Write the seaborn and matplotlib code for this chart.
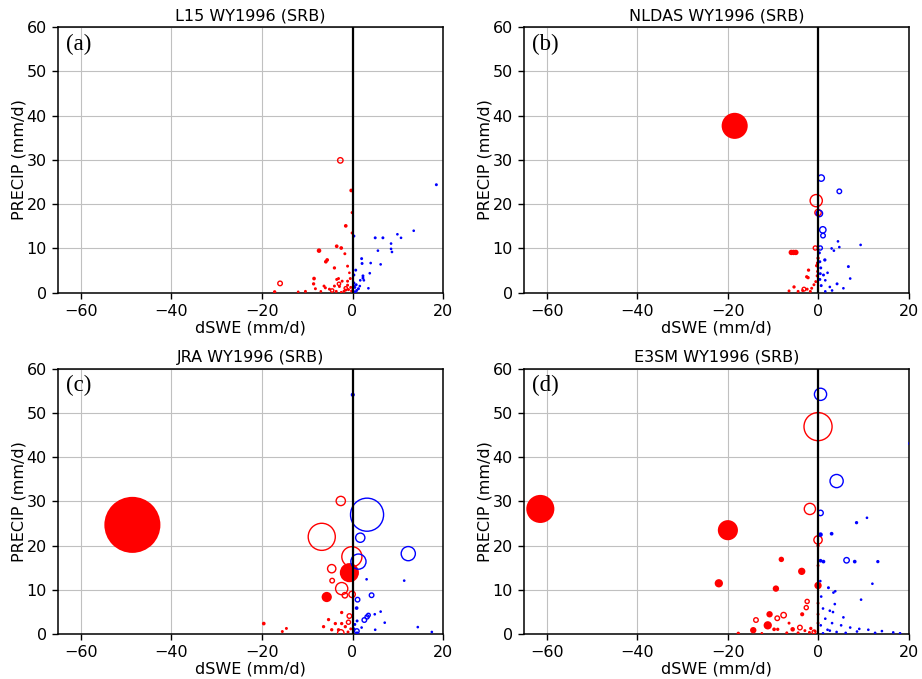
import matplotlib
matplotlib.use("Agg")
import matplotlib.pyplot as plt
import numpy as np
import pandas as pd
import seaborn as sns

# ---- data: dSWE (mm/d), PRECIP (mm/d), marker magnitude, filled flag ----
titles = ["L15 WY1996 (SRB)", "NLDAS WY1996 (SRB)", "JRA WY1996 (SRB)", "E3SM WY1996 (SRB)"]
labels = ["(a)", "(b)", "(c)", "(d)"]

l15_dswe = [-2.7, -16.0, -3.0, -1.5, -4.5,
            -0.3, -0.1, -1.5, -0.1, -3.5, -2.5, -7.4, -5.6, -5.9, -1.7, -4.0, -1.1, -8.5, -8.6,
            -17.2, -10.4, -8.2, -6.0, -5.1, -3.5, -3.1, -0.5, -2.3, -1.1, -2.9, -4.0, -1.1, -3.6,
            -1.9, -1.5, -0.9, -6.3, -0.4, -0.2, -12.0, -7.0, -2.5, -0.7,
            18.5, 13.5, 9.9, 10.7, 5.0, 6.7, 8.5, 5.6, 8.5, 8.7, 2.0, 2.1, 4.0, 6.2, 0.7, 3.8,
            2.3, 2.3, 1.7, 2.5, 0.3, 0.8, 0.5, 1.3, 0.9, 0.2, 1.6, 0.3, 0.3, 0.2, 3.5, 0.6]
l15_precip = [29.9, 2.1, 2.0, 1.0, 0.5,
              23.1, 18.1, 15.1, 13.5, 10.5, 10.1, 9.5, 7.4, 7.0, 8.8, 5.6, 6.0, 3.2, 2.0,
              0.2, 0.3, 0.9, 1.1, 0.8, 3.0, 3.2, 3.2, 2.6, 2.6, 1.4, 1.5, 1.7, 0.3,
              0.3, 0.6, 0.7, 1.5, 1.2, 0.4, 0.2, 0.3, 0.1, 4.5,
              24.4, 14.0, 13.2, 12.4, 12.4, 12.4, 11.1, 9.5, 9.9, 9.2, 7.7, 6.6, 6.7, 6.4, 5.1, 4.4,
              3.8, 3.3, 2.8, 2.8, 2.2, 1.8, 1.2, 0.9, 0.5, 0.3, 1.5, 12.8, 4.0, 1.6, 1.0, 0.1]
l15_mag = [5, 4, 2.5, 2.5, 2.5,
           3, 2, 3, 2, 3, 3, 4, 3, 3, 2, 2.5, 2, 3, 2.5,
           2.5, 2, 2, 2, 2, 2, 2, 2, 2, 2, 2, 2, 2, 2,
           2, 2, 2, 2, 2, 2, 1.5, 1.5, 1.5, 1.5,
           2, 1.5, 1.5, 1.5, 2, 2, 1.5, 1.5, 1.5, 1.5, 2, 2, 1.5, 1.5, 2, 1.5,
           2, 2, 1.5, 1.5, 2, 2, 2, 2, 2, 2, 1.5, 2, 2, 2, 1.5, 2]
l15_fill = [0, 0, 0, 0, 0] + [1] * 38 + [1] * 32

nldas_dswe = [-18.5, -6.0, -5.0, -5.5, -0.1, -0.2, -0.4, -2.2, -2.6, -2.3, -5.4, -4.5, -3.5,
              -2.5, -1.5, -1.0, -0.6, -0.3, -0.2, -6.5, -1.8,
              -0.5, -0.1, -0.7, -3.2,
              0.6, 4.6, 0.2, 0.95, 1.0, 0.4,
              1.4, 6.6, 4.1, 0.2, 0.3, 0.5, 0.4, 0.3, 0.6, 1.1, 1.5, 2.5,
              4.3, 4.6, 9.3, 2.9, 3.4, 7.0, 3.0, 1.5, 2.0, 5.5]
nldas_precip = [37.7, 9.1, 9.1, 9.1, 7.8, 6.7, 6.1, 5.1, 3.6, 3.4, 1.3, 0.3, 0.5,
                0.8, 1.0, 1.8, 2.5, 3.8, 4.8, 0.4, 0.3,
                20.8, 18.1, 10.1, 0.8,
                25.9, 22.9, 17.9, 14.2, 12.9, 10.1,
                7.4, 5.9, 2.0, 9.0, 7.0, 5.6, 4.3, 3.0, 1.6, 4.0, 2.8, 1.3,
                11.6, 10.3, 10.8, 10.0, 9.5, 3.2, 0.5, 0.3, 4.5, 1.0]
nldas_mag = [26, 5, 5, 5, 2.5, 2.5, 2.5, 2.5, 2.5, 2.5, 2.5, 2, 2,
             2, 2, 2, 2, 2, 2, 2, 2,
             12, 6, 3.5, 3,
             6, 4, 6, 6, 4, 3.5,
             2.5, 2, 2, 2, 2, 2, 2, 2, 2, 2, 1.5, 1.5,
             1.5, 1.5, 1.5, 1.5, 1.5, 1.5, 1.5, 1.5, 1.5, 1.5]
nldas_fill = [1] * 21 + [0] * 4 + [0] * 6 + [1] * 12 + [1] * 10

jra_dswe = [-48.6, -0.7, -5.7, -19.6, -14.6, -15.5, -2.4, -5.3, -3.8, -2.4, -6.4, -4.6, -3.1, -1.6,
            -1.0, -0.4,
            -2.6, -6.8, -0.15, -4.6, -4.5, -2.4, -1.7, -0.1, -0.9, -2.6, -0.7,
            3.2, 1.7, 12.3, 1.3, 1.1, 4.2, 2.6, 3.2, 3.5, 0.95,
            0.05, 0.9, 3.1, 11.4, 0.5, 1.0, 0.3, 4.9, 6.2, 7.1, 14.4, 17.5, 1.0, 2.0, 5.0]
jra_precip = [24.7, 13.9, 8.4, 2.4, 1.3, 0.6, 4.9, 3.3, 2.4, 2.4, 1.7, 1.0, 1.0, 1.7,
              0.5, 1.2,
              30.1, 22.0, 17.5, 14.8, 12.1, 10.3, 8.8, 9.0, 2.7, 0.3, 4.1,
              27.0, 21.8, 18.2, 16.4, 7.8, 8.8, 3.2, 3.9, 4.3, 0.7,
              54.1, 5.9, 12.4, 12.1, 2.2, 3.0, 1.2, 4.5, 5.1, 2.6, 1.6, 0.5, 0.3, 1.5, 1.0]
jra_mag = [56, 19, 10, 3, 2, 2, 2.5, 2.5, 2.5, 2.5, 2.5, 2.5, 2.5, 2.5,
           2, 2,
           9, 27, 20, 8, 4, 12, 5, 6, 3.5, 6, 4,
           33, 9, 14, 15, 4, 4, 4, 3.5, 3, 4,
           3.5, 3, 1.5, 1.5, 2, 2, 2, 1.5, 1.5, 1.5, 1.5, 1.5, 2, 1.5, 1.5]
jra_fill = [1] * 16 + [0] * 11 + [0] * 10 + [1] * 15

e3sm_dswe = [-61.4, -20.0, -22.0, -8.2, -3.7, -0.1, -9.4, -10.8, -11.2, -14.4, -17.7, -3.6, -5.7,
             -9.8, -9.0, -1.7, -0.1, -0.1, -0.1, -0.1, -0.1, -2.0, -4.5, -7.0, -3.0, -0.8, -12.5,
             -6.5,
             -0.1, -1.9, -0.1, -13.8, -9.1, -7.7, -2.7, -2.5, -4.1, -1.0,
             0.45, 4.0, 0.45, 6.2,
             20.2, 0.45, 2.9, 8.4, 10.7, 8.0, 13.1, 0.45, 1.1, 11.9, 2.2, 3.7, 3.3, 9.4, 3.6, 1.0,
             2.5, 3.2, 1.5, 3.0, 5.0, 7.0, 9.0, 11.0, 14.0, 16.5, 2.0, 4.0, 6.0, 1.0, 0.5, 2.5,
             5.5, 8.5, 12.5, 18.0, 0.6, 0.4]
e3sm_precip = [28.3, 23.5, 11.5, 16.9, 14.2, 11.0, 10.3, 4.5, 2.0, 0.9, 0.2, 4.5, 1.1,
               1.1, 1.1, 1.3, 20.0, 7.0, 4.5, 2.5, 15.5, 0.4, 0.3, 0.3, 0.8, 0.7, 0.2,
               2.5,
               46.9, 28.3, 21.3, 3.2, 3.6, 4.3, 6.0, 7.4, 1.5, 0.5,
               54.2, 34.6, 27.4, 16.7,
               43.1, 22.5, 22.7, 25.2, 26.3, 16.4, 16.4, 16.6, 16.4, 11.4, 10.5, 9.7, 9.4, 7.8, 6.8, 5.8,
               5.3, 5.0, 3.5, 2.5, 2.0, 1.5, 1.2, 1.0, 0.7, 0.4, 1.0, 0.5, 0.3, 0.2, 2.0, 0.8,
               3.8, 0.6, 0.3, 0.2, 8.5, 12.0]
e3sm_mag = [28, 20, 8, 5, 7, 7, 6, 6, 8, 6, 2.5, 3.5, 4,
            3, 2.5, 2.5, 2.5, 2, 2, 2, 2, 2, 2, 2, 2, 2, 1.5,
            2,
            28, 11, 8, 4, 4, 5, 3.5, 3.5, 4, 3,
            12, 13, 5, 5,
            3, 4, 3, 2.5, 1.5, 3, 2.5, 3, 3, 1.5, 2, 1.5, 1.5, 1.5, 1.5, 1.5,
            1.5, 1.5, 1.5, 1.5, 1.5, 1.5, 1.5, 1.5, 1.5, 1.5, 1.5, 1.5, 1.5, 1.5, 1.5, 1.5,
            1.5, 1.5, 1.5, 1.5, 1.5, 1.5]
e3sm_fill = [1] * 28 + [0] * 10 + [0] * 4 + [1] * 38

x_ticks = [-60, -40, -20, 0, 20]
y_ticks = [0, 10, 20, 30, 40, 50, 60]

sns.set_style("ticks", rc={"text.color": "black", "axes.labelcolor": "black",
                           "xtick.color": "black", "ytick.color": "black"})
plt.rcParams['font.family'] = ['DejaVu Sans']

fig, axes = plt.subplots(2, 2, figsize=(9.22, 6.79), dpi=100)
fig.subplots_adjust(left=0.063, right=0.986, top=0.960, bottom=0.066, wspace=0.21, hspace=0.286)

panel_data = [
    (l15_dswe, l15_precip, l15_mag, l15_fill),
    (nldas_dswe, nldas_precip, nldas_mag, nldas_fill),
    (jra_dswe, jra_precip, jra_mag, jra_fill),
    (e3sm_dswe, e3sm_precip, e3sm_mag, e3sm_fill),
]

for ax, title, lab, (dx, py, mg, fl) in zip(axes.flat, titles, labels, panel_data):
    df = pd.DataFrame({"dswe": dx, "precip": py, "mag": mg, "filled": fl})
    df["s"] = (0.72 * df["mag"]) ** 2 + 2.5
    df["col"] = np.where(df["dswe"] < 0, "red", "blue")

    for col in ["red", "blue"]:
        sub = df[(df["col"] == col) & (df["filled"] == 1)]
        if len(sub):
            sns.scatterplot(data=sub, x="dswe", y="precip", s=sub["s"].to_numpy(), color=col,
                            edgecolor="none", linewidth=0, ax=ax, zorder=3, legend=False)
        sub = df[(df["col"] == col) & (df["filled"] == 0)]
        if len(sub):
            sns.scatterplot(data=sub, x="dswe", y="precip", s=sub["s"].to_numpy(), color=col,
                            facecolor="none", edgecolor=col, linewidth=1.0, ax=ax, zorder=3,
                            legend=False)

    ax.axvline(0, color="k", lw=1.6, zorder=4)
    ax.set_xlim(-65, 20)
    ax.set_ylim(0, 60)
    ax.set_xticks(x_ticks)
    ax.set_yticks(y_ticks)
    ax.grid(True, color="#c0c0c0", lw=0.8)
    ax.set_axisbelow(True)
    for sp in ax.spines.values():
        sp.set_color("k")
        sp.set_linewidth(1.1)
    ax.tick_params(labelsize=11.5, length=4.5, width=1, color="k", labelcolor="black")
    ax.set_xlabel("dSWE (mm/d)", fontsize=11.5, labelpad=1, color="black")
    ax.set_ylabel("PRECIP (mm/d)", fontsize=11.5, labelpad=0, color="black")
    ax.set_title(title, fontsize=11.5, pad=5, color="black")
    ax.text(0.02, 0.975, lab, transform=ax.transAxes, va="top", ha="left", color="black",
            fontsize=16.5, family=["Liberation Serif", "DejaVu Serif"], zorder=5)

fig.savefig("out.png", dpi=100)
